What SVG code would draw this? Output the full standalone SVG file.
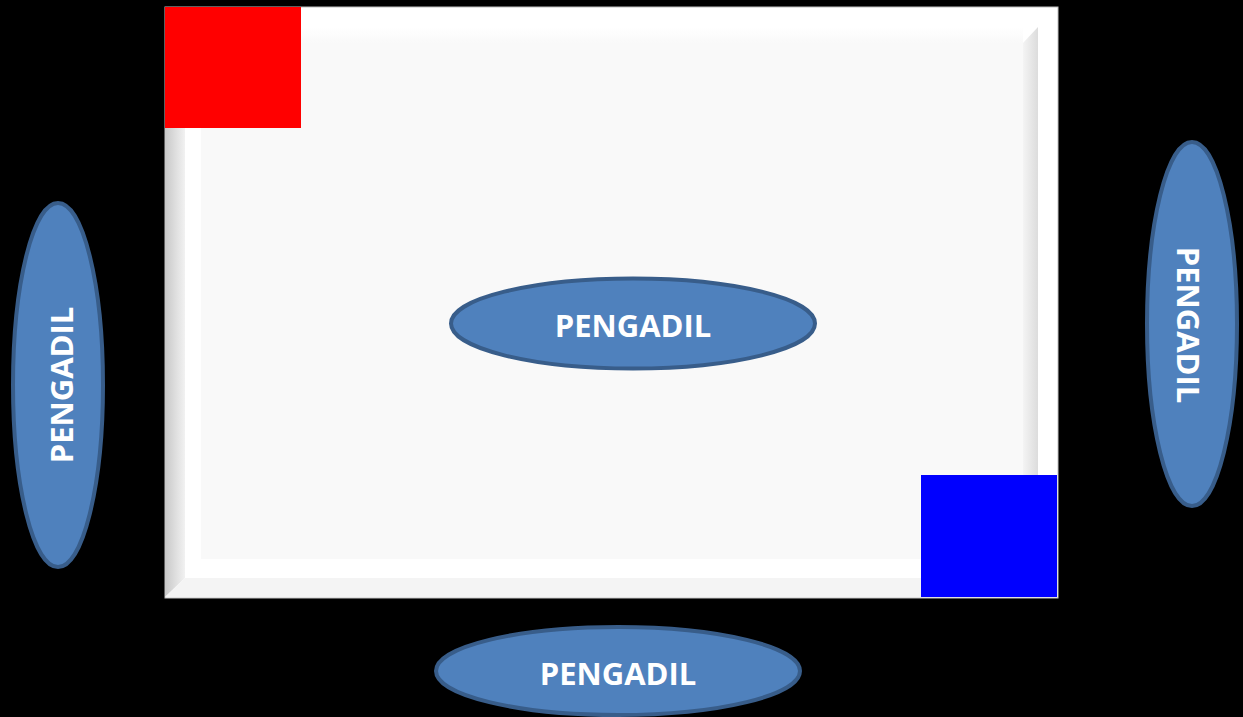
<svg xmlns="http://www.w3.org/2000/svg" width="1243" height="717" viewBox="0 0 1243 717">
<style>
.ell{fill:#4f81bd;stroke:#385d8a;stroke-width:4}
.lbl{font-family:"Open Sans","Liberation Sans",sans-serif;font-weight:bold;font-size:31px;fill:#ffffff;text-anchor:middle;dominant-baseline:central}
</style>
<defs>
<linearGradient id="gl" x1="0" y1="0" x2="1" y2="0">
<stop offset="0" stop-color="#c8c8c8"/><stop offset="1" stop-color="#f2f2f2"/>
</linearGradient>
<linearGradient id="gr" x1="0" y1="0" x2="1" y2="0">
<stop offset="0" stop-color="#f4f4f4"/><stop offset="1" stop-color="#dcdcdc"/>
</linearGradient>
<linearGradient id="gt" x1="0" y1="0" x2="0" y2="1">
<stop offset="0" stop-color="#ffffff"/><stop offset="1" stop-color="#f9f9f9"/>
</linearGradient>
</defs>
<rect width="1243" height="717" fill="#000000"/>
<g id="field">
<rect x="165" y="7" width="893" height="591" fill="#ffffff" stroke="#c0c0c0" stroke-width="1"/>
<polygon points="165,7 185,27 185,578 165,597" fill="url(#gl)"/>
<polygon points="165,597 185,578 1038,578 1058,597" fill="#f4f4f4"/>
<rect x="185" y="27" width="853" height="551" fill="#ffffff"/>
<rect x="201" y="27" width="822" height="16" fill="url(#gt)"/>
<rect x="201" y="43" width="822" height="516" fill="#f9f9f9"/>
<polygon points="1023,43 1038,27 1038,578 1023,559" fill="url(#gr)"/>
</g>
<g id="red-corner"><rect x="165" y="7" width="136" height="121" fill="#ff0000"/></g>
<g id="blue-corner"><rect x="921" y="475" width="136" height="122" fill="#0000ff"/></g>
<g id="ref-center">
<ellipse class="ell" cx="633" cy="323.5" rx="182" ry="45"/>
<text class="lbl" x="633" y="325">PENGADIL</text>
</g>
<g id="ref-bottom">
<ellipse class="ell" cx="618" cy="671" rx="182" ry="44"/>
<text class="lbl" x="618" y="673">PENGADIL</text>
</g>
<g id="ref-left">
<ellipse class="ell" cx="58" cy="385" rx="45" ry="182"/>
<text class="lbl" x="0" y="0" transform="translate(61,385) rotate(-90)">PENGADIL</text>
</g>
<g id="ref-right">
<ellipse class="ell" cx="1192" cy="324" rx="45" ry="182"/>
<text class="lbl" x="0" y="0" transform="translate(1189,325) rotate(90)">PENGADIL</text>
</g>
<g id="connectors"/>
</svg>
